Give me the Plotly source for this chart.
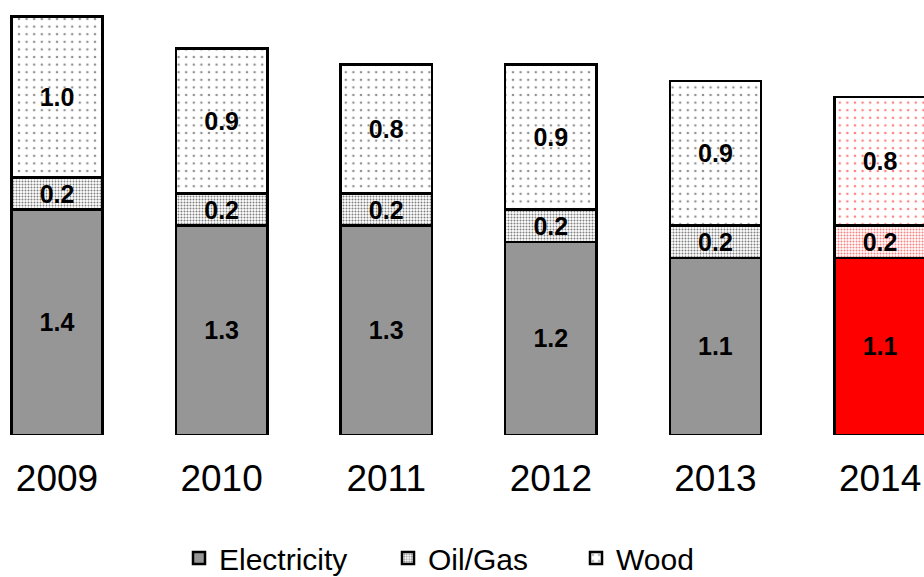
import plotly.graph_objects as go

# Heating energy use by source, per year
years = ["2009", "2010", "2011", "2012", "2013", "2014"]
electricity = [1.4, 1.3, 1.3, 1.2, 1.1, 1.1]
oil_gas = [0.2, 0.2, 0.2, 0.2, 0.2, 0.2]
wood = [1.0, 0.9, 0.8, 0.9, 0.9, 0.8]

FONT = "Arial, Liberation Sans, sans-serif"
GRAY = "#969696"
RED = "#FF0000"
highlight = [False, False, False, False, False, True]

elec_fill = [RED if h else GRAY for h in highlight]
dot_fg_dense = [RED if h else "#000000" for h in highlight]
dot_fg_sparse = [RED if h else "#222222" for h in highlight]

BAR_W = 0.555
LINE = dict(color="#000000", width=2.5)
LABEL_FONT = dict(family=FONT, size=25, color="#000000", weight="bold")

fig = go.Figure()

fig.add_trace(go.Bar(
    name="Electricity", x=years, y=electricity, width=BAR_W,
    marker=dict(color=elec_fill, line=LINE),
    text=[f"{v:.1f}" for v in electricity], texttemplate="<b>%{text}</b>",
    textposition="inside", insidetextanchor="middle", constraintext="none",
    textfont=LABEL_FONT, legend="legend", hoverinfo="skip",
))
fig.add_trace(go.Bar(
    name="Oil/Gas", x=years, y=oil_gas, width=BAR_W,
    marker=dict(color="#FFFFFF", line=LINE,
                pattern=dict(shape=".", size=3.0, solidity=0.36,
                             fgcolor=dot_fg_dense, bgcolor="#FFFFFF",
                             fillmode="overlay")),
    text=[f"{v:.1f}" for v in oil_gas], texttemplate="<b>%{text}</b>",
    textposition="inside", insidetextanchor="middle", constraintext="none",
    textfont=LABEL_FONT, legend="legend2", hoverinfo="skip",
))
fig.add_trace(go.Bar(
    name="Wood", x=years, y=wood, width=BAR_W,
    marker=dict(color="#FFFFFF", line=LINE,
                pattern=dict(shape=".", size=7.6, solidity=0.09,
                             fgcolor=dot_fg_sparse, bgcolor="#FFFFFF",
                             fillmode="overlay")),
    text=[f"{v:.1f}" for v in wood], texttemplate="<b>%{text}</b>",
    textposition="inside", insidetextanchor="middle", constraintext="none",
    textfont=LABEL_FONT, legend="legend3", hoverinfo="skip",
))

legend_common = dict(
    orientation="h", xref="container", yref="container",
    xanchor="left", yanchor="middle", y=0.033,
    font=dict(family=FONT, size=30, color="#000000"),
    bgcolor="rgba(0,0,0,0)", itemwidth=30,
)

fig.update_layout(
    width=924, height=577,
    margin=dict(l=0, r=0, t=0, b=142),
    paper_bgcolor="#FFFFFF", plot_bgcolor="#FFFFFF",
    barmode="stack",
    showlegend=True,
    legend=dict(legend_common, x=179 / 924),
    legend2=dict(legend_common, x=388 / 924),
    legend3=dict(legend_common, x=576 / 924),
    xaxis=dict(
        type="category", range=[-0.3463, 5.267],
        showgrid=False, showline=False, zeroline=False, ticks="",
        tickfont=dict(family=FONT, size=37, color="#000000"),
        ticklabelstandoff=18,
    ),
    yaxis=dict(
        range=[0, 435 / 161], visible=False, showgrid=False, zeroline=False,
    ),
)

fig.write_html("out.html")
